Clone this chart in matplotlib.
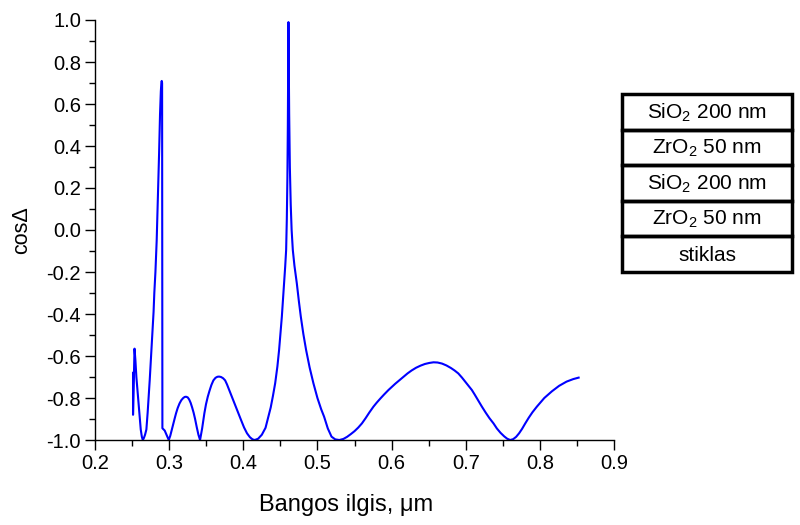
import numpy as np
import matplotlib.pyplot as plt
from matplotlib.patches import Rectangle
from matplotlib.ticker import MultipleLocator

plt.rcParams['font.family'] = ['Liberation Sans', 'DejaVu Sans']
plt.rcParams['mathtext.fontset'] = 'custom'
plt.rcParams['mathtext.rm'] = 'Liberation Sans'
plt.rcParams['mathtext.it'] = 'Liberation Sans:italic'

# bangos ilgis (um) ir cos(Delta), nuskaityta nuo grafiko
wavelength = [0.2513, 0.2513, 0.2533, 0.2545, 0.2558, 0.2570, 0.2580, 0.2600,
              0.2617, 0.2632, 0.2645, 0.2660, 0.2675, 0.2693, 0.2710, 0.2724,
              0.2738, 0.2751, 0.2765, 0.2778, 0.2790, 0.2800, 0.2815, 0.2832,
              0.2850, 0.2864, 0.2877, 0.2888, 0.2895, 0.2900, 0.2905, 0.2909,
              0.2940, 0.2965, 0.2995, 0.3015, 0.3035, 0.3055, 0.3075, 0.3093,
              0.3115, 0.3140, 0.3165, 0.3190, 0.3210, 0.3228, 0.3250, 0.3270,
              0.3290, 0.3310, 0.3330, 0.3350, 0.3373, 0.3395, 0.3417, 0.3430,
              0.3445, 0.3460, 0.3475, 0.3497, 0.3521, 0.3545, 0.3570, 0.3597,
              0.3625, 0.3650, 0.3673, 0.3700, 0.3728, 0.3755, 0.3780, 0.3810,
              0.3845, 0.3875, 0.3905, 0.3934, 0.3970, 0.4010, 0.4050, 0.4090,
              0.4125, 0.4155, 0.4200, 0.4250, 0.4300, 0.4339, 0.4370, 0.4400,
              0.4430, 0.4460, 0.4483, 0.4500, 0.4520, 0.4535, 0.4550, 0.4565,
              0.4578, 0.4587, 0.4595, 0.4601, 0.4606, 0.4609, 0.4613, 0.4619,
              0.4628, 0.4640, 0.4652, 0.4668, 0.4690, 0.4722, 0.4750, 0.4776,
              0.4810, 0.4847, 0.4895, 0.4946, 0.5000, 0.5050, 0.5090, 0.5140,
              0.5190, 0.5240, 0.5295, 0.5350, 0.5400, 0.5450, 0.5500, 0.5550,
              0.5600, 0.5650, 0.5700, 0.5756, 0.5800, 0.5850, 0.5900, 0.5958,
              0.6000, 0.6050, 0.6100, 0.6150, 0.6215, 0.6270, 0.6330, 0.6390,
              0.6450, 0.6510, 0.6566, 0.6620, 0.6680, 0.6740, 0.6800, 0.6850,
              0.6900, 0.6950, 0.7000, 0.7045, 0.7083, 0.7120, 0.7165, 0.7218,
              0.7270, 0.7320, 0.7375, 0.7420, 0.7470, 0.7520, 0.7560, 0.7600,
              0.7640, 0.7680, 0.7720, 0.7760, 0.7803, 0.7850, 0.7900, 0.7960,
              0.8060, 0.8163, 0.8260, 0.8360, 0.8450, 0.8523]
cos_delta = [-0.68, -0.88, -0.565, -0.62, -0.70, -0.75, -0.794, -0.88,
             -0.95, -0.985, -1.0, -0.99, -0.975, -0.95, -0.87, -0.794,
             -0.715, -0.635, -0.555, -0.476, -0.39, -0.30, -0.20, -0.05,
             0.18, 0.36, 0.55, 0.66, 0.70, 0.71, 0.70, -0.944,
             -0.955, -0.975, -1.0, -0.98, -0.952, -0.925, -0.897, -0.873,
             -0.848, -0.826, -0.810, -0.800, -0.795, -0.794, -0.797, -0.807,
             -0.823, -0.845, -0.870, -0.90, -0.94, -0.975, -1.0, -0.975,
             -0.945, -0.91, -0.873, -0.83, -0.794, -0.765, -0.738, -0.716,
             -0.704, -0.699, -0.698, -0.700, -0.706, -0.716, -0.735, -0.762,
             -0.794, -0.821, -0.847, -0.874, -0.905, -0.940, -0.968, -0.987,
             -0.997, -1.0, -0.994, -0.975, -0.942, -0.889, -0.845, -0.79,
             -0.730, -0.65, -0.571, -0.50, -0.413, -0.335, -0.254, -0.175,
             -0.095, 0.05, 0.25, 0.50, 0.78, 0.99, 0.80, 0.55,
             0.30, 0.12, 0.0, -0.095, -0.17, -0.254, -0.34, -0.413,
             -0.495, -0.571, -0.655, -0.730, -0.80, -0.853, -0.889, -0.945,
             -0.984, -0.997, -1.0, -0.995, -0.985, -0.972, -0.958, -0.941,
             -0.921, -0.896, -0.869, -0.841, -0.822, -0.802, -0.783, -0.762,
             -0.748, -0.732, -0.717, -0.702, -0.683, -0.669, -0.656, -0.646,
             -0.638, -0.633, -0.630, -0.631, -0.636, -0.645, -0.657, -0.669,
             -0.683, -0.703, -0.725, -0.745, -0.762, -0.783, -0.810, -0.841,
             -0.870, -0.896, -0.921, -0.945, -0.966, -0.983, -0.994, -1.0,
             -0.996, -0.985, -0.968, -0.947, -0.921, -0.894, -0.868, -0.841,
             -0.800, -0.768, -0.742, -0.722, -0.710, -0.703]

# sluoksniu schema (nuo virsaus)
layers = ['SiO$_2$ 200 nm', 'ZrO$_2$ 50 nm', 'SiO$_2$ 200 nm', 'ZrO$_2$ 50 nm', 'stiklas']

fig = plt.figure(figsize=(8, 5.25), dpi=100)
ax = fig.add_axes([95 / 800, 1 - 440 / 525, 519 / 800, 420 / 525])
ax.plot(wavelength, cos_delta, color='#0000ff', lw=1.5)

ax.set_xlim(0.2, 0.9)
ax.set_ylim(-1.0, 1.0)
ax.xaxis.set_major_locator(MultipleLocator(0.1))
ax.xaxis.set_minor_locator(MultipleLocator(0.05))
ax.yaxis.set_major_locator(MultipleLocator(0.2))
ax.yaxis.set_minor_locator(MultipleLocator(0.1))
ax.xaxis.set_major_formatter(lambda v, p: '%.1f' % v)
ax.yaxis.set_major_formatter(lambda v, p: '%.1f' % v)

for s in ['top', 'right']:
    ax.spines[s].set_visible(False)
for s in ['left', 'bottom']:
    ax.spines[s].set_linewidth(1.0)
ax.tick_params(which='major', direction='out', length=7, width=1.0, labelsize=14.5, pad=3)
ax.tick_params(which='minor', direction='out', length=4, width=1.0)

ax.set_xlabel('Bangos ilgis, μm', fontsize=17)
ax.xaxis.set_label_coords(0.484, -0.128)
ax.set_ylabel('cosΔ', fontsize=15.5, labelpad=10)

# sluoksniu langelis
bx = fig.add_axes([622 / 800, 1 - 272 / 525, 170 / 800, 178 / 525])
bx.set_xlim(0, 1)
bx.set_ylim(0, len(layers))
bx.axis('off')
for i, name in enumerate(layers):
    y0 = len(layers) - 1 - i
    bx.add_patch(Rectangle((0, y0), 1, 1, fill=False, ec='black', lw=2.5, clip_on=False))
    bx.text(0.5, y0 + 0.47, name, ha='center', va='center', fontsize=15)

fig.savefig('out.png', dpi=100)
